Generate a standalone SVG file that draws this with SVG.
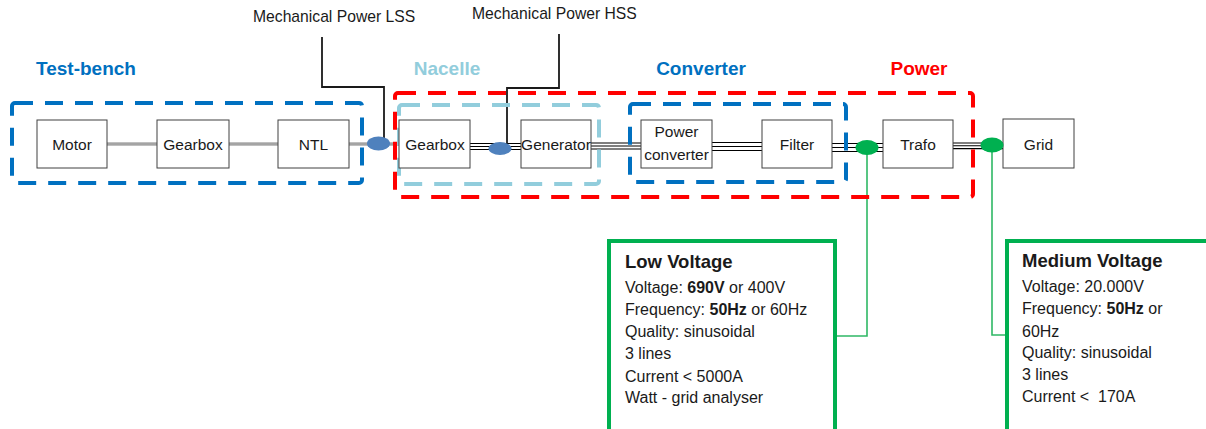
<svg xmlns="http://www.w3.org/2000/svg" width="1206" height="429" viewBox="0 0 1206 429">
<style>
text{font-family:"Liberation Sans",Arial,sans-serif;fill:#1a1a1a}
.box{fill:#fff;stroke:#404040;stroke-width:1}
.bl{font-size:15.5px;text-anchor:middle}
.grp{fill:none;stroke-width:4;stroke-dasharray:18 12}
.glab{font-size:19px;font-weight:bold;text-anchor:middle}
.mech{fill:none;stroke:#1a1a1a;stroke-width:1.8}
.tri{stroke:#000;stroke-width:1.1}
.gline{fill:none;stroke:#2fb865;stroke-width:1.6}
.info{fill:#fff;stroke:#00B050;stroke-width:4}
.it{font-size:16px}
.ih{font-size:18.5px;font-weight:bold}
</style>
<rect width="1206" height="429" fill="#fff"/>

<g id="connectors">
<g stroke="#808080" stroke-width="3">
<line x1="107" y1="144" x2="157" y2="144"/>
<line x1="229" y1="144" x2="278" y2="144"/>
<line x1="349" y1="144" x2="399" y2="144"/>
</g>
<g stroke="#d0d0d0" stroke-width="0.9">
<line x1="107" y1="144" x2="157" y2="144"/>
<line x1="229" y1="144" x2="278" y2="144"/>
<line x1="349" y1="144" x2="399" y2="144"/>
</g>
<g class="tri">
<line x1="470" y1="143.5" x2="521" y2="143.5"/><line x1="470" y1="146.5" x2="521" y2="146.5"/><line x1="470" y1="149.5" x2="521" y2="149.5"/>
<line x1="591" y1="143" x2="641" y2="143"/><line x1="591" y1="146" x2="641" y2="146"/><line x1="591" y1="149" x2="641" y2="149"/>
<line x1="712" y1="142.5" x2="762" y2="142.5"/><line x1="712" y1="146.5" x2="762" y2="146.5"/><line x1="712" y1="150.5" x2="762" y2="150.5"/>
<line x1="832" y1="143.5" x2="883" y2="143.5"/><line x1="832" y1="147.5" x2="883" y2="147.5"/><line x1="832" y1="151.5" x2="883" y2="151.5"/>
<line x1="953" y1="143" x2="1003" y2="143"/><line x1="953" y1="145.8" x2="1003" y2="145.8"/><line x1="953" y1="148.6" x2="1003" y2="148.6"/>
</g>
<path class="mech" d="M322,37 V87 H384 V140"/>
<path class="mech" d="M559,34 V88 H507 V143"/>
<path class="gline" d="M867,150 V336 H835"/>
<path class="gline" d="M992,147 V335 H1007"/>
</g>

<g id="group-testbench">
<rect class="grp" x="12" y="103" width="350" height="80" rx="3" stroke="#0070C0"/>
<text class="glab" x="86" y="75" style="fill:#0070C0">Test-bench</text>
</g>
<g id="group-power">
<rect class="grp" x="395" y="93" width="578" height="104" rx="3" stroke="#FF0000"/>
<text class="glab" x="919" y="75" style="fill:#FF0000">Power</text>
</g>
<g id="group-nacelle">
<rect class="grp" x="399" y="105" width="200" height="79" rx="3" stroke="#92CDDC"/>
<text class="glab" x="447" y="75" style="fill:#92CDDC">Nacelle</text>
</g>
<g id="group-converter">
<rect class="grp" x="630" y="104" width="216" height="78" rx="3" stroke="#0070C0"/>
<text class="glab" x="701" y="75" style="fill:#0070C0">Converter</text>
</g>

<g id="motor"><rect class="box" x="37" y="120" width="70" height="48"/><text class="bl" x="72" y="150">Motor</text></g>
<g id="gearbox-tb"><rect class="box" x="157" y="120" width="72" height="48"/><text class="bl" x="193" y="150">Gearbox</text></g>
<g id="ntl"><rect class="box" x="278" y="120" width="71" height="48"/><text class="bl" x="313.5" y="150">NTL</text></g>
<g id="gearbox-nacelle"><rect class="box" x="399" y="120" width="71" height="48"/><text class="bl" x="435" y="150">Gearbox</text></g>
<g id="generator"><rect class="box" x="521" y="120" width="70" height="48"/><text class="bl" x="556" y="150">Generator</text></g>
<g id="power-converter"><rect class="box" x="641" y="120" width="71" height="48"/><text class="bl" x="676.5" y="137">Power</text><text class="bl" x="676.5" y="160">converter</text></g>
<g id="filter"><rect class="box" x="762" y="120" width="70" height="48"/><text class="bl" x="797" y="150">Filter</text></g>
<g id="trafo"><rect class="box" x="883" y="120" width="70" height="48"/><text class="bl" x="918" y="150">Trafo</text></g>
<g id="grid"><rect class="box" x="1003" y="119" width="71" height="49"/><text class="bl" x="1038.5" y="150">Grid</text></g>

<g id="lss">
<ellipse cx="378.5" cy="143.5" rx="11.5" ry="7" fill="#4F81BD"/>
<text x="253" y="22" style="font-size:15.7px">Mechanical Power LSS</text>
</g>
<g id="hss">
<ellipse cx="500" cy="148.5" rx="11.5" ry="6.5" fill="#4F81BD"/>
<text x="472" y="19" style="font-size:15.7px">Mechanical Power HSS</text>
</g>
<g id="lv-point"><ellipse cx="867" cy="147.5" rx="11.5" ry="7.5" fill="#00B050"/></g>
<g id="mv-point"><ellipse cx="992" cy="145" rx="11.5" ry="7.5" fill="#00B050"/></g>

<g id="low-voltage">
<rect class="info" x="609" y="241" width="226" height="220"/>
<text class="ih" x="625" y="268">Low Voltage</text>
<text class="it" x="625" y="292.5">Voltage: <tspan font-weight="bold">690V</tspan> or 400V</text>
<text class="it" x="625" y="315">Frequency: <tspan font-weight="bold">50Hz</tspan> or 60Hz</text>
<text class="it" x="625" y="337">Quality: sinusoidal</text>
<text class="it" x="625" y="359">3 lines</text>
<text class="it" x="625" y="381.5">Current &lt; 5000A</text>
<text class="it" x="625" y="403">Watt - grid analyser</text>
</g>
<g id="medium-voltage">
<rect class="info" x="1007" y="241" width="230" height="220"/>
<text class="ih" x="1022" y="267">Medium Voltage</text>
<text class="it" x="1022" y="292">Voltage: 20.000V</text>
<text class="it" x="1022" y="314">Frequency: <tspan font-weight="bold">50Hz</tspan> or</text>
<text class="it" x="1022" y="337">60Hz</text>
<text class="it" x="1022" y="358">Quality: sinusoidal</text>
<text class="it" x="1022" y="380">3 lines</text>
<text class="it" x="1022" y="402" xml:space="preserve">Current &lt;  170A</text>
</g>
</svg>
